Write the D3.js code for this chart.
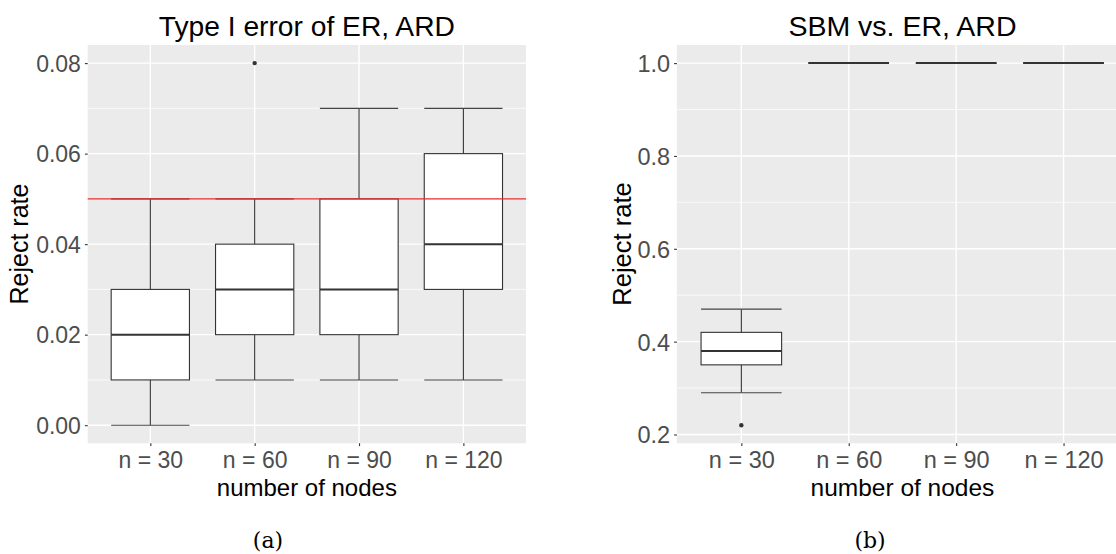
<!DOCTYPE html>
<html>
<head>
<meta charset="utf-8">
<script src="https://cdn.jsdelivr.net/npm/d3@7"></script>
<style>
  body { margin: 0; background: #fff; }
  text { font-family: "Liberation Sans", Arial, sans-serif; }
</style>
</head>
<body>
<div id="chart"></div>
<script>
// two ggplot-style boxplot panels side by side

var categories = ["n = 30", "n = 60", "n = 90", "n = 120"];

// (a) Type I error of ER, ARD
var aLow    = [0.00, 0.01, 0.01, 0.01];
var aQ1     = [0.01, 0.02, 0.02, 0.03];
var aMedian = [0.02, 0.03, 0.03, 0.04];
var aQ3     = [0.03, 0.04, 0.05, 0.06];
var aHigh   = [0.05, 0.05, 0.07, 0.07];
var aOutliers = [["n = 60", 0.08]];
var aTicks = [0, 0.02, 0.04, 0.06, 0.08];
var aMinor = [0.01, 0.03, 0.05, 0.07];
var aLevel = 0.05;

// (b) SBM vs. ER, ARD
var bLow    = [0.29, 1.0, 1.0, 1.0];
var bQ1     = [0.35, 1.0, 1.0, 1.0];
var bMedian = [0.38, 1.0, 1.0, 1.0];
var bQ3     = [0.42, 1.0, 1.0, 1.0];
var bHigh   = [0.47, 1.0, 1.0, 1.0];
var bOutliers = [["n = 30", 0.22]];
var bTicks = [0.2, 0.4, 0.6, 0.8, 1.0];
var bMinor = [0.3, 0.5, 0.7, 0.9];

var svg = d3.select("#chart").append("svg")
    .attr("width", 1116)
    .attr("height", 554);

function panel(opt) {
    var x = d3.scalePoint()
        .domain(categories)
        .range([opt.left, opt.right])
        .padding(0.6);
    var y = d3.scaleLinear()
        .domain(opt.domain)
        .range([443.3, 45]);
    var bw = x.step() * 0.75;

    var g = svg.append("g");

    // panel background
    g.append("rect")
        .attr("x", opt.left).attr("y", 45)
        .attr("width", opt.right - opt.left).attr("height", 443.3 - 45)
        .attr("fill", "#EBEBEB");

    // grid
    g.selectAll("line.minor").data(opt.minor).enter().append("line")
        .attr("x1", opt.left).attr("x2", opt.right)
        .attr("y1", function(d) { return y(d); }).attr("y2", function(d) { return y(d); })
        .attr("stroke", "#fff").attr("stroke-width", 0.7);
    g.selectAll("line.major").data(opt.ticks).enter().append("line")
        .attr("x1", opt.left).attr("x2", opt.right)
        .attr("y1", function(d) { return y(d); }).attr("y2", function(d) { return y(d); })
        .attr("stroke", "#fff").attr("stroke-width", 1.4);
    g.selectAll("line.vgrid").data(categories).enter().append("line")
        .attr("x1", function(d) { return x(d); }).attr("x2", function(d) { return x(d); })
        .attr("y1", 45).attr("y2", 443.3)
        .attr("stroke", "#fff").attr("stroke-width", 1.4);

    // boxes
    var rows = categories.map(function(c, i) {
        return {c: c, lo: opt.lo[i], q1: opt.q1[i], med: opt.med[i], q3: opt.q3[i], hi: opt.hi[i]};
    });
    var box = g.selectAll("g.box").data(rows).enter().append("g");
    // whiskers
    box.append("line")
        .attr("x1", function(d) { return x(d.c); }).attr("x2", function(d) { return x(d.c); })
        .attr("y1", function(d) { return y(d.lo); }).attr("y2", function(d) { return y(d.q1); })
        .attr("stroke", "#333").attr("stroke-width", 1.1);
    box.append("line")
        .attr("x1", function(d) { return x(d.c); }).attr("x2", function(d) { return x(d.c); })
        .attr("y1", function(d) { return y(d.q3); }).attr("y2", function(d) { return y(d.hi); })
        .attr("stroke", "#333").attr("stroke-width", 1.1);
    // caps
    box.selectAll("line.cap").data(function(d) { return [d.lo, d.hi].map(function(v) { return {c: d.c, v: v}; }); })
        .enter().append("line")
        .attr("x1", function(d) { return x(d.c) - bw / 2; }).attr("x2", function(d) { return x(d.c) + bw / 2; })
        .attr("y1", function(d) { return y(d.v); }).attr("y2", function(d) { return y(d.v); })
        .attr("stroke", "#444").attr("stroke-width", 1.1);
    box.append("rect")
        .attr("x", function(d) { return x(d.c) - bw / 2; })
        .attr("y", function(d) { return y(d.q3); })
        .attr("width", bw)
        .attr("height", function(d) { return y(d.q1) - y(d.q3); })
        .attr("fill", "#fff").attr("stroke", "#333").attr("stroke-width", 1.1);
    box.append("line")
        .attr("x1", function(d) { return x(d.c) - bw / 2; }).attr("x2", function(d) { return x(d.c) + bw / 2; })
        .attr("y1", function(d) { return y(d.med); }).attr("y2", function(d) { return y(d.med); })
        .attr("stroke", "#333").attr("stroke-width", 2);

    g.selectAll("circle.out").data(opt.outliers).enter().append("circle")
        .attr("cx", function(d) { return x(d[0]); })
        .attr("cy", function(d) { return y(d[1]); })
        .attr("r", 2.2).attr("fill", "#333");

    if (opt.level != null) {
        g.append("line")
            .attr("x1", opt.left).attr("x2", opt.right)
            .attr("y1", y(opt.level)).attr("y2", y(opt.level))
            .attr("stroke", "#E52B2B").attr("stroke-width", 1.1);
    }

    // axes
    var ya = g.append("g")
        .attr("transform", "translate(" + opt.left + ",0)")
        .call(d3.axisLeft(y).tickValues(opt.ticks).tickFormat(d3.format(opt.fmt)).tickSize(2.8).tickPadding(4));
    var xa = g.append("g")
        .attr("transform", "translate(0,443.3)")
        .call(d3.axisBottom(x).tickSize(2.8));
    [ya, xa].forEach(function(a) {
        a.select(".domain").remove();
        a.selectAll(".tick line").attr("stroke", "#333").attr("stroke-width", 1.1);
        a.selectAll("text").attr("fill", "#4D4D4D").style("font-size", opt.tickFont + "px")
            .style("font-family", "'Liberation Sans', Arial, sans-serif");
    });
    ya.selectAll("text").attr("dy", "0.36em");
    xa.selectAll("text").attr("y", 24.5).attr("dy", 0);

    var cx = (opt.left + opt.right) / 2;
    g.append("text")
        .attr("x", cx).attr("y", 36)
        .attr("text-anchor", "middle")
        .style("font-size", opt.titleFont + "px")
        .text(opt.title);
    g.append("text")
        .attr("x", cx).attr("y", 495.5)
        .attr("text-anchor", "middle")
        .style("font-size", opt.labelFont + "px")
        .text("number of nodes");
    g.append("text")
        .attr("transform", "translate(" + opt.ylabX + ",244) rotate(-90)")
        .attr("text-anchor", "middle")
        .style("font-size", (opt.labelFont + 1) + "px")
        .text("Reject rate");
    g.append("text")
        .attr("x", opt.capX).attr("y", 548)
        .attr("text-anchor", "middle")
        .style("font-family", "'DejaVu Serif', 'Liberation Serif', serif")
        .style("font-size", "22px")
        .text(opt.caption);
}

panel({
    left: 87.7, right: 526, domain: [-0.004, 0.084],
    lo: aLow, q1: aQ1, med: aMedian, q3: aQ3, hi: aHigh, outliers: aOutliers,
    ticks: aTicks, minor: aMinor, fmt: ".2f", level: aLevel,
    title: "Type I error of ER, ARD", ylabX: 28, capX: 268, caption: "(a)",
    tickFont: 23, labelFont: 24, titleFont: 28.2
});

panel({
    left: 676.9, right: 1128, domain: [0.181, 1.039],
    lo: bLow, q1: bQ1, med: bMedian, q3: bQ3, hi: bHigh, outliers: bOutliers,
    ticks: bTicks, minor: bMinor, fmt: ".1f", level: null,
    title: "SBM vs. ER, ARD", ylabX: 631, capX: 870, caption: "(b)",
    tickFont: 23.5, labelFont: 24.5, titleFont: 28.5
});
</script>
</body>
</html>
